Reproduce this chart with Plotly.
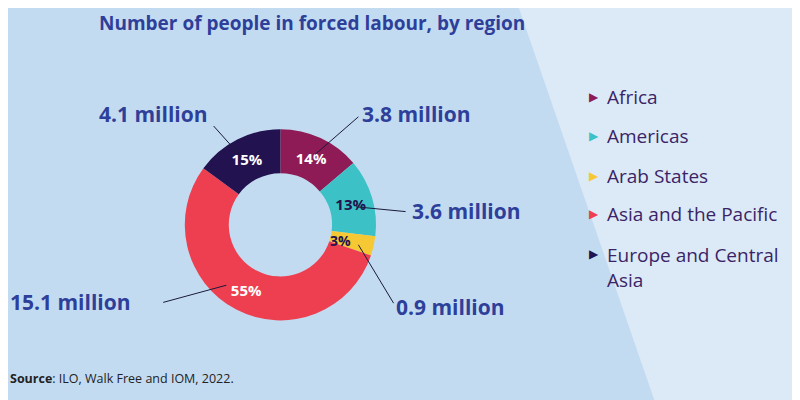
import plotly.graph_objects as go

regions = ["Africa", "Americas", "Arab States", "Asia and the Pacific", "Europe and Central Asia"]
legend_labels = ["Africa", "Americas", "Arab States", "Asia and the Pacific", "Europe and Central<br>Asia"]
millions = [3.8, 3.6, 0.9, 15.1, 4.1]
percents = ["14%", "13%", "", "55%", "15%"]
small_pct = "3%"
colors = ["#8E1B55", "#3CC2C6", "#F6C934", "#EE3F50", "#22124F"]
text_colors = ["white", "#22124F", "#22124F", "white", "white"]

BLUE = "#2E3F9A"
PURPLE = "#3B2466"

fig = go.Figure(go.Pie(
    labels=regions, values=millions, text=percents, textinfo="text",
    textposition="inside", insidetextorientation="horizontal",
    textfont=dict(family="Open Sans", size=15, color=text_colors, weight="bold"),
    marker=dict(colors=colors), hole=0.54, sort=False, direction="clockwise",
    rotation=0, showlegend=False, domain=dict(x=[0.220, 0.461], y=[0.219, 0.697]),
))

shapes = [
    dict(type="rect", xref="paper", yref="paper", x0=-0.05, x1=1.05, y0=-0.05, y1=1.05,
         fillcolor="#DCEAF7", line_width=0, layer="below"),
    dict(type="path", xref="paper", yref="paper",
         path="M -0.05 -0.05 L -0.05 1.05 L 0.63 1.05 L 0.82 -0.05 Z",
         fillcolor="#C3DBF1", line_width=0, layer="below"),
]

annotations = [
    dict(text="Number of people in forced labour, by region", x=0.111, y=0.962,
         xanchor="left", yanchor="middle", showarrow=False,
         font=dict(family="Open Sans", size=19, color=BLUE, weight="bold")),
    dict(text="<b>Source</b>: ILO, Walk Free and IOM, 2022.", x=0.0, y=0.073,
         xanchor="left", yanchor="middle", showarrow=False,
         font=dict(family="Open Sans", size=12.5, color="#222222")),
    dict(text=small_pct, x=0.416, y=0.42, xanchor="center", yanchor="middle", showarrow=False,
         font=dict(family="Open Sans", size=14, color="#22124F", weight="bold")),
]

callouts = [
    (3.8, 0.44, 0.735),
    (3.6, 0.503, 0.493),
    (0.9, 0.483, 0.252),
    (15.1, 0.0, 0.264),
    (4.1, 0.111, 0.735),
]
for val, x, y in callouts:
    annotations.append(dict(text=f"{val} million", x=x, y=y, xanchor="left", yanchor="middle",
                            showarrow=False,
                            font=dict(family="Open Sans", size=21, color=BLUE, weight="bold")))

lines = [
    (0.438, 0.728, 0.384, 0.634),
    (0.497, 0.491, 0.435, 0.503),
    (0.482, 0.262, 0.438, 0.408),
    (0.194, 0.264, 0.273, 0.307),
    (0.257, 0.705, 0.292, 0.627),
]
for x0, y0, x1, y1 in lines:
    shapes.append(dict(type="line", xref="paper", yref="paper", x0=x0, y0=y0, x1=x1, y1=y1,
                       line=dict(color="#1A1A3A", width=1)))

legend_y = [0.778, 0.680, 0.579, 0.484, 0.386]
for lab, col, y in zip(legend_labels, colors, legend_y):
    annotations.append(dict(text=f"<span style='color:{col}'>▶</span>", x=0.724, y=y,
                            xanchor="left", yanchor="middle", showarrow=False,
                            font=dict(family="DejaVu Sans", size=12)))
    annotations.append(dict(text=lab, x=0.746, y=y, xanchor="left",
                            yanchor="top" if "<br>" in lab else "middle",
                            yshift=14 if "<br>" in lab else 0, align="left", showarrow=False,
                            font=dict(family="Open Sans", size=19, color=PURPLE)))

fig.update_layout(width=800, height=400, margin=dict(l=0, r=0, t=0, b=0),
                  paper_bgcolor="#DCEAF7", shapes=shapes, annotations=annotations)

fig.write_html("out.html")
